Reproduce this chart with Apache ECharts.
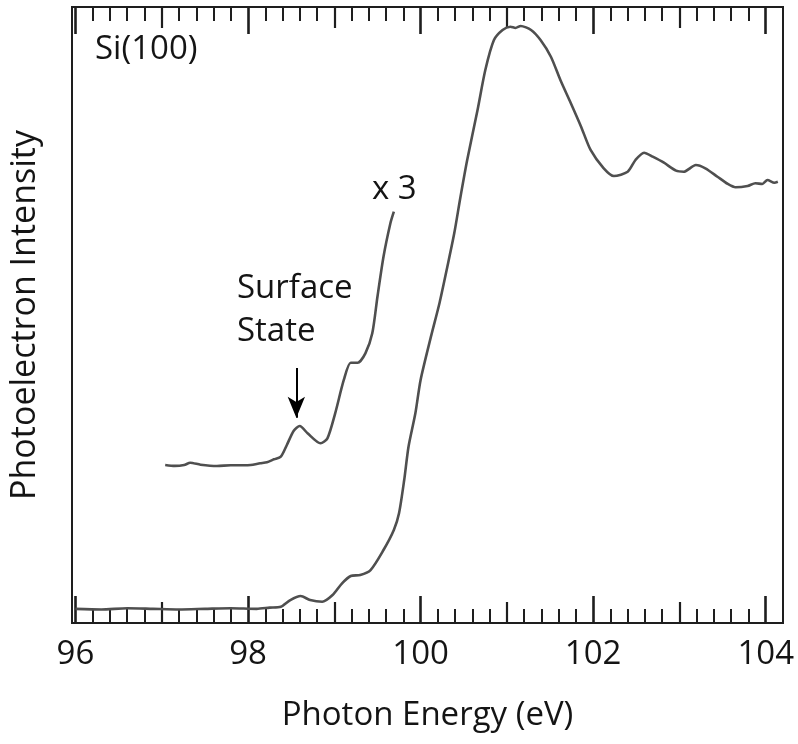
<!DOCTYPE html>
<html>
<head>
<meta charset="utf-8">
<script src="https://cdn.jsdelivr.net/npm/echarts@6/dist/echarts.min.js"></script>
<style>html,body{margin:0;padding:0;background:#fff}#chart{width:798px;height:744px}</style>
</head>
<body>
<div id="chart"></div>
<script>
// Photon energy (eV) and photoelectron intensity (arb. units) of the full spectrum
var mainEnergy = [96.0, 96.3, 96.6, 96.9, 97.2, 97.5, 97.8, 98.1, 98.25, 98.38, 98.49, 98.61, 98.72, 98.86, 98.98, 99.09, 99.19, 99.30, 99.42, 99.57, 99.69, 99.75, 99.81, 99.86, 99.94, 100.00, 100.12, 100.22, 100.31, 100.39, 100.46, 100.54, 100.66, 100.75, 100.85, 100.95, 101.04, 101.10, 101.16, 101.28, 101.39, 101.51, 101.62, 101.74, 101.86, 101.97, 102.12, 102.24, 102.40, 102.49, 102.59, 102.69, 102.82, 102.96, 103.05, 103.19, 103.30, 103.44, 103.56, 103.65, 103.79, 103.88, 103.96, 104.02, 104.10, 104.14];
var mainIntensity = [2.3, 2.2, 2.4, 2.3, 2.2, 2.3, 2.4, 2.3, 2.5, 2.65, 3.73, 4.38, 3.73, 3.46, 4.55, 6.44, 7.63, 7.79, 8.60, 11.85, 15.10, 17.81, 23.21, 28.62, 34.09, 39.45, 46.48, 52.0, 57.84, 63.26, 69.0, 75.16, 83.28, 89.77, 94.64, 96.27, 96.80, 96.6, 96.92, 96.27, 94.64, 91.93, 88.15, 84.42, 80.57, 76.79, 73.86, 72.56, 73.26, 75.16, 76.35, 75.70, 74.72, 73.43, 73.26, 74.35, 73.81, 72.45, 71.27, 70.73, 70.94, 71.38, 71.27, 71.92, 71.48, 71.64];

// The x3 magnified trace near the surface state
var x3Energy = [97.04, 97.15, 97.26, 97.33, 97.45, 97.64, 97.8, 97.95, 98.03, 98.14, 98.22, 98.30, 98.38, 98.45, 98.53, 98.60, 98.69, 98.84, 98.92, 99.01, 99.11, 99.19, 99.27, 99.36, 99.44, 99.50, 99.57, 99.65, 99.69];
var x3Intensity = [25.65, 25.5, 25.65, 26.02, 25.7, 25.49, 25.6, 25.6, 25.65, 25.93, 26.1, 26.57, 27.0, 28.9, 31.22, 31.98, 30.80, 29.17, 29.98, 34.04, 39.45, 42.26, 42.26, 43.78, 47.03, 52.97, 59.46, 64.89, 66.77];

// Surface state arrow (energy, start intensity, end intensity)
var arrowEnergy = [98.56];
var arrowIntensity = [41.4, 33.3];

// Axis ticks
var majorTicks = [96, 98, 100, 102, 104];
var majorTickLabels = ['96', '98', '100', '102', '104'];
var mediumTicks = [97, 99, 101, 103];
var minorTicks = [96.2, 96.4, 96.6, 96.8, 97.2, 97.4, 97.6, 97.8, 98.2, 98.4, 98.6, 98.8, 99.2, 99.4, 99.6, 99.8, 100.2, 100.4, 100.6, 100.8, 101.2, 101.4, 101.6, 101.8, 102.2, 102.4, 102.6, 102.8, 103.2, 103.4, 103.6, 103.8];

var xMin = 95.96, xMax = 104.2;
var FONT = 'Open Sans';
var TXT = '#141414';
var LINE = '#4f4f4f';
var AX = '#1e1e1e';

function zip(a, b) { return a.map(function (v, i) { return [v, b[i]]; }); }

var gridRect = { left: 72, right: 15, top: 7, bottom: 121 };
var grids = [0, 1, 2].map(function (i) {
  return Object.assign({}, gridRect, i === 0 ? { show: true, borderColor: AX, borderWidth: 2, backgroundColor: 'transparent' } : { show: false });
});

var tickSets = [
  { vals: majorTicks, len: 27, w: 2.6 },
  { vals: mediumTicks, len: 21, w: 2.2 },
  { vals: minorTicks, len: 14, w: 2 }
];

var xAxes = [];
tickSets.forEach(function (ts, gi) {
  ['bottom', 'top'].forEach(function (pos) {
    var ax = {
      type: 'value', gridIndex: gi, position: pos, min: xMin, max: xMax,
      axisLine: { show: false },
      splitLine: { show: false },
      axisTick: { show: true, inside: true, length: ts.len, customValues: ts.vals, lineStyle: { color: AX, width: ts.w } },
      axisLabel: { show: false }
    };
    if (gi === 0 && pos === 'bottom') {
      ax.axisLabel = {
        show: true, customValues: majorTicks, margin: 15,
        formatter: function (v) { var i = majorTicks.indexOf(Math.round(v)); return i >= 0 ? majorTickLabels[i] : ''; },
        fontFamily: FONT, fontSize: 33, color: TXT
      };
      ax.name = 'Photon Energy (eV)';
      ax.nameLocation = 'middle';
      ax.nameGap = 76;
      ax.nameTextStyle = { fontFamily: FONT, fontSize: 33, color: TXT };
    }
    xAxes.push(ax);
  });
});

var yAxes = [0, 1, 2].map(function (gi) {
  var ay = {
    type: 'value', gridIndex: gi, min: 0, max: 100,
    axisLine: { show: false }, axisTick: { show: false }, axisLabel: { show: false }, splitLine: { show: false }
  };
  if (gi === 0) {
    ay.name = 'Photoelectron Intensity';
    ay.nameLocation = 'middle';
    ay.nameGap = 30;
    ay.nameTextStyle = { fontFamily: FONT, fontSize: 34, color: TXT };
  }
  return ay;
});

var chart = echarts.init(document.getElementById('chart'), null, { renderer: 'canvas' });
chart.setOption({
  animation: false,
  backgroundColor: '#ffffff',
  grid: grids,
  xAxis: xAxes,
  yAxis: yAxes,
  series: [
    {
      type: 'line', xAxisIndex: 0, yAxisIndex: 0, name: 'Si(100)',
      data: zip(mainEnergy, mainIntensity),
      showSymbol: false, smooth: 0.25,
      lineStyle: { color: LINE, width: 2.6 }
    },
    {
      type: 'line', xAxisIndex: 0, yAxisIndex: 0, name: 'x3',
      data: zip(x3Energy, x3Intensity),
      showSymbol: false, smooth: 0.25,
      lineStyle: { color: LINE, width: 2.6 },
      markLine: {
        silent: true, symbol: ['none', 'arrow'], symbolSize: [13, 21],
        label: { show: false },
        lineStyle: { color: '#000', width: 2, type: 'solid' },
        data: [[{ coord: [arrowEnergy[0], arrowIntensity[0]] }, { coord: [arrowEnergy[0], arrowIntensity[1]] }]]
      }
    }
  ],
  graphic: [
    { type: 'text', x: 95, y: 50, style: { text: 'Si(100)', font: '33px "Open Sans"', fill: TXT, align: 'left', verticalAlign: 'middle' } },
    { type: 'text', x: 372, y: 190, style: { text: 'x 3', font: '33px "Open Sans"', fill: TXT, align: 'left', verticalAlign: 'middle' } },
    { type: 'text', x: 237, y: 289, style: { text: 'Surface', font: '33px "Open Sans"', fill: TXT, align: 'left', verticalAlign: 'middle' } },
    { type: 'text', x: 237, y: 332, style: { text: 'State', font: '33px "Open Sans"', fill: TXT, align: 'left', verticalAlign: 'middle' } }
  ]
});
</script>
</body>
</html>
